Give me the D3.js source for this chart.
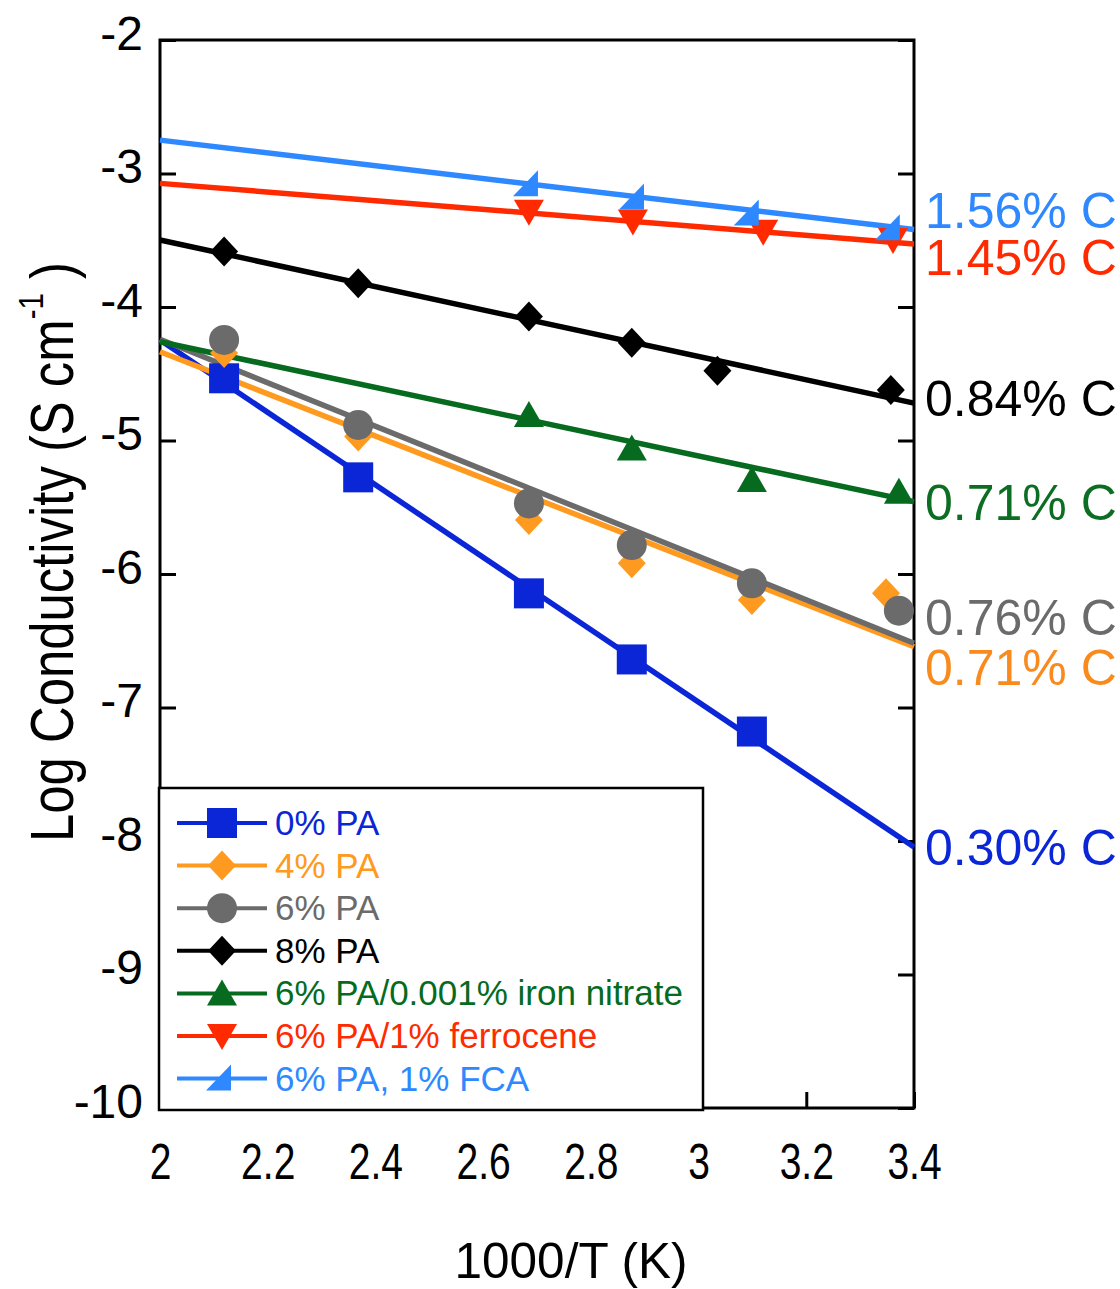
<!DOCTYPE html>
<html><head><meta charset="utf-8">
<script src="https://cdn.jsdelivr.net/npm/d3@7"></script>
<style>body{margin:0;background:#fff}svg{display:block}text{font-family:"Liberation Sans",Arial,sans-serif}</style>
</head><body><svg id="c" width="1120" height="1289"></svg>
<script>
// ---- data ----
const seriesNames = ["0% PA","4% PA","6% PA","8% PA","6% PA/0.001% iron nitrate","6% PA/1% ferrocene","6% PA, 1% FCA"];
const seriesColors = ["#0a26d6","#ff9a20","#6b6b6b","#000000","#066b1f","#ff2a00","#2e88ff"];
const seriesMarkers = ["square","diamond","circle","diamond","triUp","triDown","halfTri"];
const x0 = [2.119, 2.368, 2.685, 2.876, 3.099];
const y0 = [-4.534, -5.276, -6.145, -6.64, -7.18];
const x4 = [2.119, 2.368, 2.685, 2.876, 3.099, 3.348];
const y4 = [-4.345, -4.97, -5.596, -5.92, -6.195, -6.145];
const x6 = [2.119, 2.368, 2.685, 2.876, 3.099, 3.372];
const y6 = [-4.247, -4.884, -5.471, -5.783, -6.07, -6.275];
const x8 = [2.119, 2.368, 2.685, 2.876, 3.035, 3.357];
const y8 = [-3.585, -3.823, -4.072, -4.267, -4.477, -4.622];
const xFe = [2.685, 2.876, 3.099, 3.372];
const yFe = [-4.809, -5.059, -5.296, -5.383];
const xFc = [2.685, 2.878, 3.120, 3.361];
const yFc = [-3.286, -3.36, -3.436, -3.498];
const xFca = [2.685, 2.882, 3.095, 3.357];
const yFca = [-3.08, -3.18, -3.30, -3.41];
const seriesX = [x0, x4, x6, x8, xFe, xFc, xFca];
const seriesY = [y0, y4, y6, y8, yFe, yFc, yFca];
// linear fits: value at x = 2 and x = 3.4
const fitX = [2, 3.4];
const fitY = [[-4.247,-8.045],[-4.335,-6.545],[-4.242,-6.519],[-3.498,-4.72],[-4.26,-5.458],[-3.074,-3.528],[-2.75,-3.42]];
// carbon content annotations at right
const carbonLabels = ["1.56% C","1.45% C","0.84% C","0.71% C","0.76% C","0.71% C","0.30% C"];
const carbonColors = ["#2e88ff","#ff2a00","#000000","#0c6e22","#6b6b6b","#f88a1e","#0a26d6"];
const carbonLabelY = [-3.408, -3.76, -4.816, -5.596, -6.457, -6.831, -8.18];
const xTicks = [2,2.2,2.4,2.6,2.8,3,3.2,3.4];
const yTicks = [-2,-3,-4,-5,-6,-7,-8,-9,-10];
const xTitle = "1000/T (K)";

// ---- chart ----
const svg = d3.select("#c");
const L=160,R=914,T=40,B=1108;
const x = d3.scaleLinear().domain([2,3.4]).range([L,R]);
const y = d3.scaleLinear().domain([-2,-10]).range([T,B]);

// axes
const ax = svg.append("g");
const gl = ax.append("g").attr("transform",`translate(${L},0)`)
  .call(d3.axisLeft(y).tickValues(yTicks).tickSize(-16).tickPadding(17).tickFormat(d=>String(d)));
gl.selectAll("text").attr("dy","9px").style("font-size","48px").attr("fill","#000");
const gr = ax.append("g").attr("transform",`translate(${R},0)`)
  .call(d3.axisRight(y).tickValues(yTicks).tickSize(-16).tickFormat(""));
const gb = ax.append("g").attr("transform",`translate(0,${B})`)
  .call(d3.axisBottom(x).tickValues(xTicks).tickSize(-16).tickPadding(36).tickFormat(d=>String(d)));
gb.selectAll("text").style("font-size","50px").attr("fill","#000").attr("transform","scale(0.78,1)");
[gl,gr,gb].forEach(g=>{g.select(".domain").remove();g.selectAll(".tick line").attr("stroke","#000").attr("stroke-width",3);});

svg.append("rect").attr("x",L).attr("y",T).attr("width",R-L).attr("height",B-T)
  .attr("fill","none").attr("stroke","#000").attr("stroke-width",3);

// fit lines
const line = d3.line().x(d=>x(d[0])).y(d=>y(d[1]));
fitY.forEach((f,i)=>{
  svg.append("path").datum(fitX.map((xv,j)=>[xv,f[j]])).attr("d",line)
    .attr("fill","none").attr("stroke",seriesColors[i]).attr("stroke-width",5.5);
});

function marker(g, type, color){
  if(type==="square") g.append("rect").attr("x",-15).attr("y",-15).attr("width",30).attr("height",30).attr("fill",color);
  else if(type==="circle") g.append("circle").attr("r",15).attr("fill",color);
  else if(type==="diamond") g.append("path").attr("d","M0,-15L14,0L0,15L-14,0Z").attr("fill",color);
  else if(type==="triUp") g.append("path").attr("d","M0,-14L15,12L-15,12Z").attr("fill",color);
  else if(type==="triDown") g.append("path").attr("d","M0,14L15,-12L-15,-12Z").attr("fill",color);
  else if(type==="halfTri") g.append("path").attr("d","M-16,12L9,12L9,-14Z").attr("fill",color);
}
seriesX.forEach((xs,i)=>{
  xs.forEach((xv,j)=>{
    const g = svg.append("g").attr("transform",`translate(${x(xv)},${y(seriesY[i][j])})`);
    marker(g, seriesMarkers[i], seriesColors[i]);
  });
});

// carbon labels
carbonLabels.forEach((t,i)=>{
  svg.append("text").attr("x",925).attr("y",y(carbonLabelY[i])).text(t)
    .style("font-size","50px").attr("fill",carbonColors[i]);
});

// legend
svg.append("rect").attr("x",159).attr("y",788).attr("width",544).attr("height",322)
  .attr("fill","#fff").attr("stroke","#000").attr("stroke-width",2.5);
seriesNames.forEach((n,i)=>{
  const cy = 823 + i*42.6;
  svg.append("line").attr("x1",177).attr("x2",267).attr("y1",cy).attr("y2",cy)
    .attr("stroke",seriesColors[i]).attr("stroke-width",4);
  marker(svg.append("g").attr("transform",`translate(222,${cy})`), seriesMarkers[i], seriesColors[i]);
  svg.append("text").attr("x",275).attr("y",cy+12).text(n).style("font-size","35px").attr("fill",seriesColors[i]);
});

// axis titles
const xt = svg.append("text").attr("text-anchor","middle").style("font-size","50px").text(xTitle);
const xw = xt.node().getBBox().width;
xt.attr("transform",`translate(571,1278) scale(${233/xw},1)`);

const yt = svg.append("text").style("font-size","62px");
yt.append("tspan").text("Log Conductivity (S cm");
yt.append("tspan").text("-1").style("font-size","36px").attr("dy","-30");
yt.append("tspan").text(" )").attr("dy","30");
const yw = yt.node().getBBox().width;
yt.attr("transform",`translate(73,842) rotate(-90) scale(${580/yw},1)`);
</script></body></html>
